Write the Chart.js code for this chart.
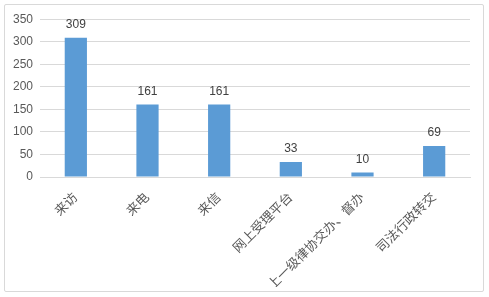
<!DOCTYPE html>
<html>
<head>
<meta charset="utf-8">
<script src="https://cdn.jsdelivr.net/npm/chart.js@4/dist/chart.umd.min.js"></script>
<style>
  html, body { margin: 0; padding: 0; background: #fff; }
  #box {
    position: absolute; left: 4px; top: 4px;
    width: 478px; height: 286px;
    border: 1px solid #d9d9d9; border-radius: 2px;
  }
</style>
</head>
<body>
<div id="box"><canvas id="chart" width="478" height="286"></canvas></div>
<script>
const categories = ['来访', '来电', '来信', '网上受理平台', '上一级律协交办、督办', '司法行政转交'];
const counts = [309, 161, 161, 33, 10, 69];
const yTicks = [0, 50, 100, 150, 200, 250, 300, 350];

const fontFamily = '"Liberation Sans", "Noto Sans CJK SC", sans-serif';

// draws the number above each bar
const valueLabels = {
  id: 'valueLabels',
  afterDatasetsDraw(chart) {
    const ctx = chart.ctx;
    const meta = chart.getDatasetMeta(0);
    ctx.save();
    ctx.fillStyle = '#404040';
    ctx.font = '12px ' + fontFamily;
    ctx.textAlign = 'center';
    ctx.textBaseline = 'bottom';
    meta.data.forEach((bar, i) => {
      ctx.fillText(String(counts[i]), bar.x, bar.y - 7);
    });
    ctx.restore();
  }
};

new Chart(document.getElementById('chart'), {
  type: 'bar',
  data: {
    labels: categories,
    datasets: [{
      data: counts,
      backgroundColor: '#5b9bd5',
      barPercentage: 0.31,
      categoryPercentage: 1
    }]
  },
  options: {
    responsive: false,
    animation: false,
    layout: { padding: { left: 0, right: 13, top: 7, bottom: 4 } },
    plugins: { legend: { display: false }, tooltip: { enabled: false } },
    scales: {
      x: {
        grid: { display: false },
        border: { color: '#d9d9d9' },
        ticks: {
          color: '#595959',
          font: { size: 13, family: fontFamily },
          minRotation: 45, maxRotation: 45,
          padding: 5
        },
        afterFit(s) { s.height = 110; }
      },
      y: {
        min: 0, max: 350,
        afterBuildTicks(s) { s.ticks = yTicks.map(v => ({ value: v })); },
        grid: { color: '#d9d9d9', drawTicks: false },
        border: { display: false },
        ticks: {
          color: '#595959',
          font: { size: 12, family: fontFamily },
          padding: 7
        },
        afterFit(s) { s.width = 35; }
      }
    }
  },
  plugins: [valueLabels]
});
</script>
</body>
</html>
